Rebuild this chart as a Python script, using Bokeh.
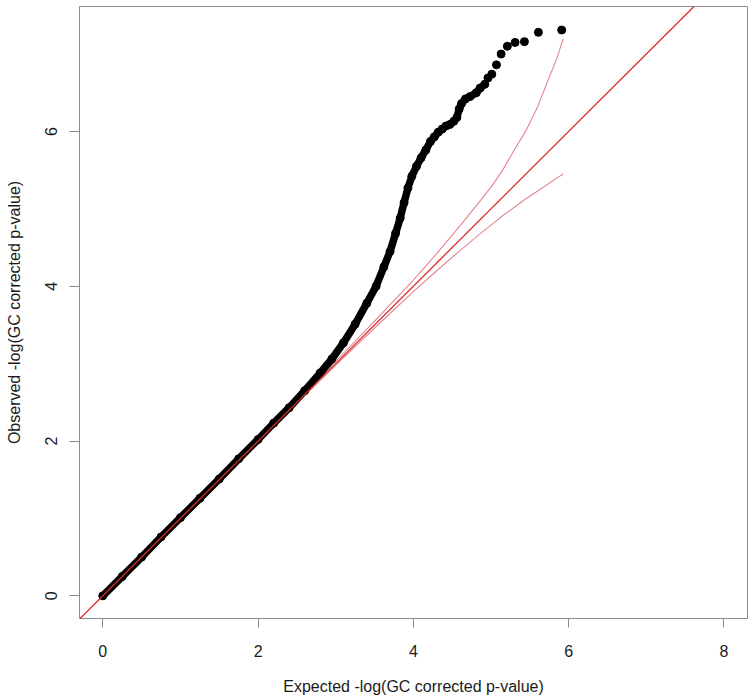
from bokeh.plotting import figure
from bokeh.models import Range1d, FixedTicker, Slope
from bokeh.embed import file_html
from bokeh.resources import INLINE

# Observed vs expected -log10 p-values (dense part of the QQ curve)
obs_x = [0.0, 0.25, 0.5, 0.75, 1.0, 1.25, 1.5, 1.75, 2.0, 2.2, 2.4, 2.6, 2.8, 2.95,
         3.1, 3.25, 3.4, 3.52, 3.62, 3.7, 3.77, 3.83, 3.88, 3.93, 3.98, 4.04, 4.1,
         4.16, 4.22, 4.27, 4.32, 4.37, 4.42, 4.47, 4.52, 4.56, 4.59, 4.62, 4.67,
         4.73, 4.81, 4.86, 4.92]
obs_y = [0.0, 0.25, 0.5, 0.76, 1.01, 1.26, 1.51, 1.77, 2.02, 2.23, 2.43, 2.65, 2.88, 3.06,
         3.27, 3.51, 3.78, 4.0, 4.25, 4.45, 4.68, 4.88, 5.08, 5.27, 5.42, 5.55, 5.66,
         5.76, 5.87, 5.93, 5.99, 6.03, 6.07, 6.09, 6.13, 6.18, 6.29, 6.36, 6.42,
         6.45, 6.5, 6.56, 6.61]
# Sparse top tail points
tail_x = [4.96, 5.01, 5.07, 5.13, 5.21, 5.31, 5.43, 5.61, 5.91]
tail_y = [6.69, 6.74, 6.86, 7.0, 7.1, 7.15, 7.16, 7.28, 7.31]

# Confidence band
ci_x = [0.0, 1.0, 2.0, 2.5, 3.0, 3.5, 4.0, 4.3, 4.6, 4.85, 5.0, 5.15, 5.3, 5.45,
        5.6, 5.75, 5.85, 5.93]
ci_upper = [0.0, 1.0, 2.01, 2.51, 3.03, 3.55, 4.08, 4.42, 4.78, 5.09, 5.28, 5.5, 5.76,
            6.01, 6.32, 6.7, 6.95, 7.2]
ci_lower = [0.0, 1.0, 1.99, 2.49, 2.98, 3.46, 3.93, 4.2, 4.46, 4.67, 4.79, 4.91, 5.02,
            5.13, 5.23, 5.33, 5.4, 5.45]

x_ticks = [0, 2, 4, 6, 8]
y_ticks = [0, 2, 4, 6]

FONT = "Liberation Sans"

p = figure(width=750, height=697,
           x_range=Range1d(-0.300, 8.303), y_range=Range1d(-0.293, 7.614),
           output_backend="svg", toolbar_location=None,
           min_border_left=79, min_border_right=3, min_border_top=6,
           min_border_bottom=79,
           x_axis_label="Expected -log(GC corrected p-value)",
           y_axis_label="Observed -log(GC corrected p-value)")
p.grid.visible = False
p.outline_line_color = "#8c8c8c"
p.outline_line_width = 1
p.background_fill_color = "white"
p.border_fill_color = "white"

p.xaxis.ticker = FixedTicker(ticks=x_ticks)
p.yaxis.ticker = FixedTicker(ticks=y_ticks)
for ax in (p.xaxis[0], p.yaxis[0]):
    ax.axis_line_color = None
    ax.major_tick_line_color = "#8c8c8c"
    ax.major_tick_in = 0
    ax.minor_tick_line_color = None
    ax.major_label_text_font = FONT
    ax.major_label_text_font_size = "16px"
    ax.major_label_text_color = "#1a1a1a"
    ax.axis_label_text_font = FONT
    ax.axis_label_text_font_size = "16px"
    ax.axis_label_text_font_style = "normal"
    ax.axis_label_text_color = "#1a1a1a"

p.xaxis.major_tick_out = 9
p.xaxis.major_label_standoff = 17
p.xaxis.axis_label_standoff = 18
p.yaxis.major_tick_out = 10
p.yaxis.major_label_standoff = 12
p.yaxis.major_label_orientation = "vertical"
p.yaxis.axis_label_standoff = 20

# confidence band lines
p.line(ci_x, ci_upper, line_color="#e3868c", line_width=1.1)
p.line(ci_x, ci_lower, line_color="#e3868c", line_width=1.1)

# observed points
p.line(obs_x, obs_y, line_color="black", line_width=7.5,
       line_cap="round", line_join="round")
p.scatter(obs_x + tail_x, obs_y + tail_y, size=8, color="black")

# y = x reference line
p.add_layout(Slope(gradient=1, y_intercept=0, line_color="#dc2b2b", line_width=1.3))

open("out.html", "w").write(file_html(p, INLINE))
